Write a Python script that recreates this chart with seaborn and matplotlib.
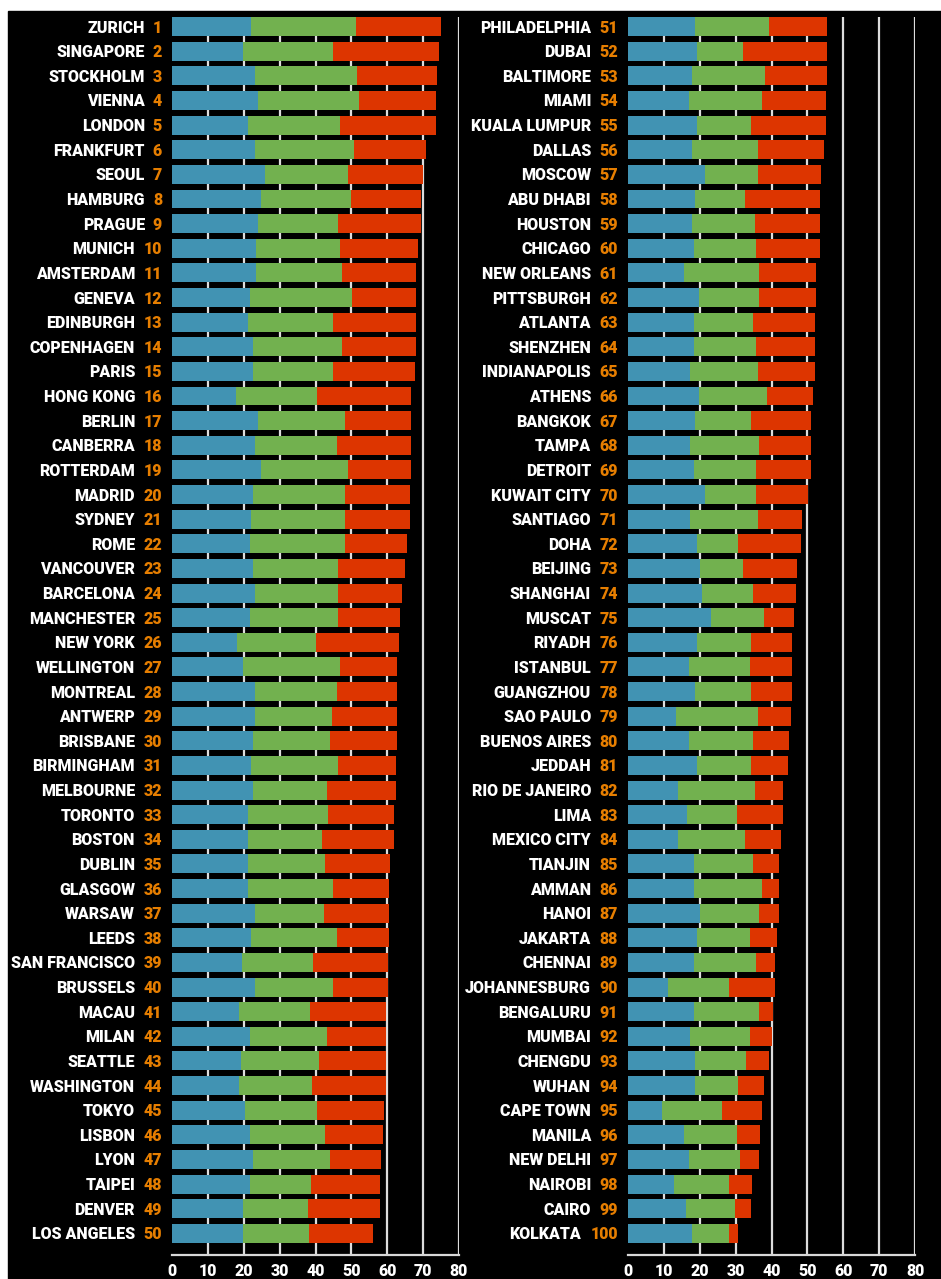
import matplotlib
matplotlib.use("Agg")
import matplotlib.pyplot as plt
from matplotlib.patches import Rectangle
import seaborn as sns

# cost-of-living style ranking: three components per city
cities_a = ["ZURICH", "SINGAPORE", "STOCKHOLM", "VIENNA", "LONDON", "FRANKFURT",
            "SEOUL", "HAMBURG", "PRAGUE", "MUNICH", "AMSTERDAM", "GENEVA",
            "EDINBURGH", "COPENHAGEN", "PARIS", "HONG KONG", "BERLIN", "CANBERRA",
            "ROTTERDAM", "MADRID", "SYDNEY", "ROME", "VANCOUVER", "BARCELONA",
            "MANCHESTER", "NEW YORK", "WELLINGTON", "MONTREAL", "ANTWERP",
            "BRISBANE", "BIRMINGHAM", "MELBOURNE", "TORONTO", "BOSTON", "DUBLIN",
            "GLASGOW", "WARSAW", "LEEDS", "SAN FRANCISCO", "BRUSSELS", "MACAU",
            "MILAN", "SEATTLE", "WASHINGTON", "TOKYO", "LISBON", "LYON", "TAIPEI",
            "DENVER", "LOS ANGELES"]
cities_b = ["PHILADELPHIA", "DUBAI", "BALTIMORE", "MIAMI", "KUALA LUMPUR", "DALLAS",
            "MOSCOW", "ABU DHABI", "HOUSTON", "CHICAGO", "NEW ORLEANS", "PITTSBURGH",
            "ATLANTA", "SHENZHEN", "INDIANAPOLIS", "ATHENS", "BANGKOK", "TAMPA",
            "DETROIT", "KUWAIT CITY", "SANTIAGO", "DOHA", "BEIJING", "SHANGHAI",
            "MUSCAT", "RIYADH", "ISTANBUL", "GUANGZHOU", "SAO PAULO", "BUENOS AIRES",
            "JEDDAH", "RIO DE JANEIRO", "LIMA", "MEXICO CITY", "TIANJIN", "AMMAN",
            "HANOI", "JAKARTA", "CHENNAI", "JOHANNESBURG", "BENGALURU", "MUMBAI",
            "CHENGDU", "WUHAN", "CAPE TOWN", "MANILA", "NEW DELHI", "NAIROBI",
            "CAIRO", "KOLKATA"]

blue_a = [22.1, 19.9, 23.1, 24.0, 21.3, 23.1, 25.8, 24.9, 24.0, 23.5,
          23.5, 21.8, 21.3, 22.6, 22.6, 17.8, 24.0, 23.1, 24.9, 22.6,
          22.1, 21.7, 22.6, 23.1, 21.7, 18.1, 19.9, 23.1, 23.1, 22.6,
          22.1, 22.6, 21.3, 21.3, 21.3, 21.3, 23.1, 22.1, 19.5, 23.1,
          18.7, 21.7, 19.1, 18.7, 20.4, 21.7, 22.6, 21.7, 19.9, 19.9]
green_a = [29.1, 24.9, 28.6, 28.2, 25.5, 27.7, 23.2, 25.1, 22.3, 23.3,
           23.8, 28.5, 23.6, 24.7, 22.3, 22.7, 24.1, 22.8, 24.1, 25.5,
           26.0, 26.4, 23.7, 23.2, 24.6, 21.9, 26.9, 22.8, 21.4, 21.4,
           24.2, 20.6, 22.3, 20.6, 21.4, 23.6, 19.2, 23.8, 19.7, 21.8,
           19.9, 21.5, 21.8, 20.4, 20.1, 21.0, 21.4, 17.0, 17.9, 18.3]
red_a = [23.7, 29.5, 22.3, 21.3, 26.7, 20.0, 21.0, 19.5, 23.2, 21.8,
         20.8, 17.8, 23.2, 20.8, 22.8, 26.2, 18.6, 20.8, 17.7, 18.2,
         18.2, 17.4, 18.7, 17.8, 17.3, 23.2, 16.0, 16.9, 18.3, 18.8,
         16.0, 19.1, 18.3, 20.0, 18.2, 15.7, 18.3, 14.7, 20.9, 15.2,
         21.0, 16.4, 18.7, 20.5, 18.6, 16.0, 14.3, 19.2, 20.1, 17.8]

blue_b = [18.7, 19.2, 17.8, 16.9, 19.2, 17.8, 21.4, 18.7, 17.8, 18.3,
          15.6, 19.7, 18.3, 18.3, 17.4, 19.7, 18.7, 17.4, 18.3, 21.4,
          17.4, 19.2, 20.0, 20.5, 23.2, 19.2, 16.9, 18.7, 13.4, 16.9,
          19.2, 13.8, 16.5, 13.8, 18.3, 18.3, 20.0, 19.2, 18.3, 11.1,
          18.3, 17.4, 18.7, 18.7, 9.4, 15.6, 16.9, 12.9, 16.1, 17.8]
green_b = [20.6, 12.9, 20.5, 20.5, 15.1, 18.3, 14.7, 13.9, 17.5, 17.3,
           21.0, 16.9, 16.5, 17.3, 18.7, 19.1, 15.6, 19.2, 17.3, 14.2,
           18.7, 11.5, 12.1, 14.3, 14.7, 15.1, 17.0, 15.6, 22.7, 17.9,
           15.1, 21.5, 13.8, 18.8, 16.5, 19.1, 16.6, 14.7, 17.3, 17.0,
           18.3, 16.5, 14.2, 12.0, 16.9, 14.7, 14.3, 15.2, 13.8, 10.3]
red_b = [16.3, 23.5, 17.3, 17.7, 20.8, 18.6, 17.7, 20.8, 18.1, 17.8,
         15.9, 15.9, 17.3, 16.5, 16.0, 12.8, 16.8, 14.5, 15.5, 14.7,
         12.4, 17.4, 15.0, 11.9, 8.4, 11.5, 11.9, 11.5, 9.3, 10.1,
         10.2, 7.9, 12.9, 10.1, 7.4, 4.8, 5.6, 7.5, 5.3, 12.8,
         3.9, 6.1, 6.3, 7.1, 11.1, 6.6, 5.3, 6.6, 4.3, 2.6]

BLUE = "#4193b3"
GREEN = "#72b14f"
RED = "#dd3500"
ORANGE = "#e67e00"

sns.set_style("dark", {"axes.facecolor": "black"})
plt.rcParams["font.family"] = ["Roboto", "DejaVu Sans"]

fig = plt.figure(figsize=(9.41, 12.79), dpi=100)
fig.patch.set_facecolor("white")
# black panel behind everything, leaving a thin white strip top and left
fig.patches.append(Rectangle((8 / 941, 0), 1, 1 - 11 / 1279,
                             transform=fig.transFigure, color="black", zorder=-5))

ax_b = 1 - 1255 / 1279
ax_h = (1255 - 17) / 1279
ax_w = 287 / 941
axes = [fig.add_axes([172 / 941, ax_b, ax_w, ax_h]),
        fig.add_axes([628 / 941, ax_b, ax_w, ax_h])]

panels = [(cities_a, blue_a, green_a, red_a, 1),
          (cities_b, blue_b, green_b, red_b, 51)]

for ax, (cities, blue, green, red, first) in zip(axes, panels):
    bg = [b + g for b, g in zip(blue, green)]
    total = [s + r for s, r in zip(bg, red)]

    # stacked bars by overlapping the running totals
    for vals, col in [(total, RED), (bg, GREEN), (blue, BLUE)]:
        sns.barplot(x=vals, y=cities, color=col, orient="h", width=0.77,
                    saturation=1, linewidth=0, ax=ax, zorder=3)

    ax.set_facecolor("black")
    ax.set_xlim(0, 80)
    ax.set_ylim(49.88, -0.39)
    ax.set_xticks(range(0, 90, 10))
    ax.set_yticks([])
    ax.set_xlabel("")
    ax.set_ylabel("")
    ax.grid(axis="x", color="#dddddd", linewidth=1.6, zorder=0)
    ax.grid(axis="y", visible=False)
    ax.xaxis.get_gridlines()[0].set_visible(False)
    ax.tick_params(axis="x", colors="white", length=0, pad=6, labelsize=11.5)
    for lbl in ax.get_xticklabels():
        lbl.set_fontweight("heavy")
    for side in ["top", "right", "left"]:
        ax.spines[side].set_visible(False)
    ax.spines["bottom"].set_color("#d8d8d8")
    ax.spines["bottom"].set_linewidth(1.6)

    # city name in white, rank in orange
    for i, city in enumerate(cities):
        rank = str(first + i)
        ax.annotate(rank, xy=(0, i), xycoords=ax.get_yaxis_transform(),
                    xytext=(-10, -1), textcoords="offset pixels",
                    ha="right", va="center", color=ORANGE,
                    fontsize=11.5, fontweight="heavy", annotation_clip=False)
        ax.annotate(city, xy=(0, i), xycoords=ax.get_yaxis_transform(),
                    xytext=(-17 - 10 * len(rank), -1), textcoords="offset pixels",
                    ha="right", va="center", color="white",
                    fontsize=11.5, fontweight="heavy", annotation_clip=False)

fig.savefig("out.png", dpi=100, facecolor=fig.get_facecolor())
